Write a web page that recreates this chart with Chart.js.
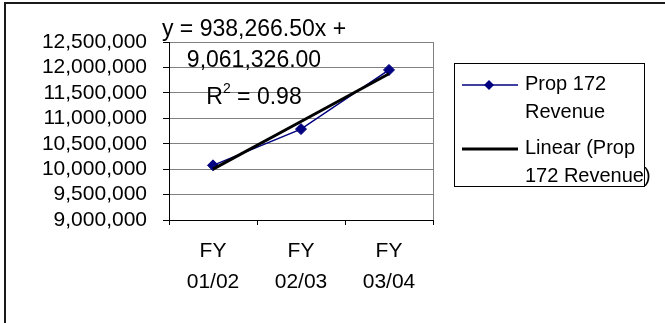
<!DOCTYPE html>
<html>
<head>
<meta charset="utf-8">
<script src="https://cdn.jsdelivr.net/npm/chart.js@4/dist/chart.umd.min.js"></script>
<style>
  html, body { margin: 0; padding: 0; background: #fff; }
  #wrap { position: relative; width: 665px; height: 323px; }
</style>
</head>
<body>
<div id="wrap"><canvas id="c" width="665" height="323"></canvas></div>
<script>
// Fiscal years on the category axis (two-line labels)
const categories = [['FY', '01/02'], ['FY', '02/03'], ['FY', '03/04']];
// Prop 172 revenue per fiscal year
const revenue = [10075000, 10787044, 11951533];
// Linear trendline fitted to the revenue series
const trendSlope = 938266.50;
const trendIntercept = 9061326.00;
const rSquared = 0.98;
// Value axis range
const yMin = 9000000;
const yMax = 12500000;
const yStep = 500000;

const seriesLabel = 'Prop 172 Revenue';
const trendLabel = 'Linear (Prop 172 Revenue)';

const FONT = 'Liberation Sans, Arial, sans-serif';
const fmt = (v, d) => v.toLocaleString('en-US', { minimumFractionDigits: d, maximumFractionDigits: d });

// Trendline values at each category position x = 1..n
const trendValues = categories.map((_, i) => trendIntercept + trendSlope * (i + 1));

const frame = {
  id: 'frame',
  beforeDraw(chart) {
    const { ctx, chartArea: a } = chart;
    ctx.save();
    // outer chart border (left and top edges)
    ctx.strokeStyle = '#1a1a1a';
    ctx.lineWidth = 2;
    ctx.beginPath();
    ctx.moveTo(5, 323); ctx.lineTo(5, 3); ctx.lineTo(665, 3);
    ctx.stroke();
    // plot-area border
    ctx.strokeStyle = '#808080';
    ctx.lineWidth = 1;
    ctx.strokeRect(a.left + 0.5, a.top + 0.5, a.right - a.left, a.bottom - a.top);
    ctx.restore();
  },
  afterDraw(chart) {
    const { ctx } = chart;
    ctx.save();
    ctx.fillStyle = '#000';
    ctx.textBaseline = 'middle';

    // trendline equation and R squared
    const cx = 254;
    const big = '23px ' + FONT;
    const small = '14px ' + FONT;
    ctx.font = big;
    ctx.textAlign = 'center';
    ctx.fillText('y = ' + fmt(trendSlope, 2) + 'x +', cx, 30);
    ctx.fillText(fmt(trendIntercept, 2), cx, 61);
    const rest = ' = ' + fmt(rSquared, 2);
    const wR = ctx.measureText('R').width;
    const wRest = ctx.measureText(rest).width;
    ctx.font = small;
    const w2 = ctx.measureText('2').width;
    const x = cx - (wR + w2 + wRest) / 2;
    ctx.textAlign = 'left';
    ctx.font = big;
    ctx.fillText('R', x, 98);
    ctx.font = small;
    ctx.fillText('2', x + wR, 89);
    ctx.font = big;
    ctx.fillText(rest, x + wR + w2, 98);

    // legend box
    ctx.strokeStyle = '#000';
    ctx.lineWidth = 1;
    ctx.strokeRect(454.5, 63.5, 190, 123);
    // series sample: line with diamond
    ctx.strokeStyle = '#000080';
    ctx.lineWidth = 1.5;
    ctx.beginPath(); ctx.moveTo(462, 85); ctx.lineTo(518, 85); ctx.stroke();
    ctx.fillStyle = '#000080';
    ctx.beginPath();
    ctx.moveTo(489 - 5, 85); ctx.lineTo(489, 80); ctx.lineTo(489 + 5, 85); ctx.lineTo(489, 90);
    ctx.closePath(); ctx.fill();
    // trend sample
    ctx.strokeStyle = '#000';
    ctx.lineWidth = 3;
    ctx.beginPath(); ctx.moveTo(462, 149); ctx.lineTo(518, 149); ctx.stroke();
    ctx.fillStyle = '#000';
    ctx.font = '20px ' + FONT;
    ctx.textAlign = 'left';
    ctx.fillText('Prop 172', 525, 84);
    ctx.fillText('Revenue', 525, 112);
    ctx.fillText('Linear (Prop', 525, 148);
    ctx.fillText('172 Revenue)', 525, 176);
    ctx.restore();
  }
};

new Chart(document.getElementById('c'), {
  type: 'line',
  data: {
    labels: categories,
    datasets: [
      {
        label: seriesLabel,
        data: revenue,
        borderColor: '#000080',
        backgroundColor: '#000080',
        borderWidth: 1.5,
        pointStyle: 'rectRot',
        pointRadius: 5.5,
        pointBorderWidth: 1,
        pointBackgroundColor: '#000080',
        pointBorderColor: '#000080',
        tension: 0,
        order: 1
      },
      {
        label: trendLabel,
        data: trendValues,
        borderColor: '#000',
        borderWidth: 3,
        pointRadius: 0,
        tension: 0,
        order: 0
      }
    ]
  },
  options: {
    responsive: false,
    animation: false,
    events: [],
    layout: { padding: { left: 0, top: 42, right: 232, bottom: 0 } },
    plugins: { legend: { display: false }, tooltip: { enabled: false } },
    scales: {
      x: {
        offset: true,
        grid: { offset: true, drawOnChartArea: false, tickLength: 5, color: '#000', tickColor: '#000' },
        border: { color: '#000', width: 1 },
        ticks: { color: '#000', padding: 10, font: { family: FONT, size: 21, lineHeight: 1.5 }, maxRotation: 0, autoSkip: false },
        afterFit(s) { s.height = 103; }
      },
      y: {
        min: yMin,
        max: yMax,
        grid: { color: '#808080', tickColor: '#000', tickLength: 6 },
        border: { color: '#000', width: 1 },
        ticks: {
          stepSize: yStep,
          autoSkip: false,
          color: '#000',
          padding: 16,
          font: { family: FONT, size: 21 },
          callback: v => fmt(v, 0)
        },
        afterFit(s) { s.width = 169; }
      }
    }
  },
  plugins: [frame]
});
</script>
</body>
</html>
